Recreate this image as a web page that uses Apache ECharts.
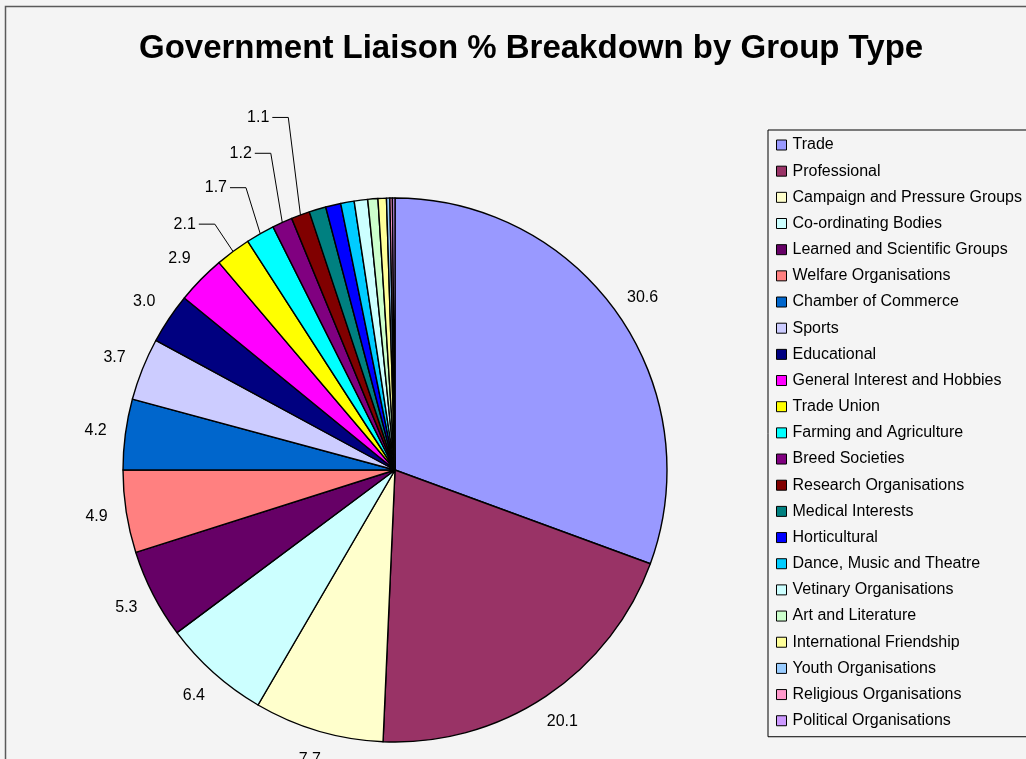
<!DOCTYPE html>
<html>
<head>
<meta charset="utf-8">
<title>Government Liaison % Breakdown by Group Type</title>
<script src="https://cdn.jsdelivr.net/npm/echarts@6/dist/echarts.min.js"></script>
<style>
  html, body { margin: 0; padding: 0; background: #ffffff; }
  #chart { width: 1026px; height: 759px; }
</style>
</head>
<body>
<div id="chart"></div>
<script>
// Group types, in the order they run clockwise from 12 o'clock
const categories = [
  'Trade', 'Professional', 'Campaign and Pressure Groups', 'Co-ordinating Bodies',
  'Learned and Scientific Groups', 'Welfare Organisations', 'Chamber of Commerce',
  'Sports', 'Educational', 'General Interest and Hobbies', 'Trade Union',
  'Farming and Agriculture', 'Breed Societies', 'Research Organisations',
  'Medical Interests', 'Horticultural', 'Dance, Music and Theatre',
  'Vetinary Organisations', 'Art and Literature', 'International Friendship',
  'Youth Organisations', 'Religious Organisations', 'Political Organisations'
];

// Share of government liaison (%)
const shares = [
  30.6, 20.1, 7.7, 6.4, 5.3, 4.9, 4.2, 3.7, 3.0, 2.9, 2.1, 1.7, 1.2, 1.1,
  1.0, 0.9, 0.8, 0.8, 0.6, 0.5, 0.2, 0.15, 0.15
];

// Classic office palette, one per group
const sliceColors = [
  '#9999FF', '#993366', '#FFFFCC', '#CCFFFF', '#660066', '#FF8080', '#0066CC',
  '#CCCCFF', '#000080', '#FF00FF', '#FFFF00', '#00FFFF', '#800080', '#800000',
  '#008080', '#0000FF', '#00CCFF', '#CCFFFF', '#CCFFCC', '#FFFF99', '#99CCFF',
  '#FF99CC', '#CC99FF'
];

// Slices whose value is printed beside the pie
const plainLabelCount = 10;   // labels sitting right next to their slice
const leaderLabelCount = 4;   // following ones, pulled out on a leader line

// Leader line geometry for the crowded small slices (radial run, sideways nudge)
const leaderLength = [34, 53, 76, 104];
const leaderShift = [2, 12, 20, 24];

const FONT = '"Liberation Sans", Arial, Helvetica, sans-serif';
const CENTER = [395, 470];
const RADIUS = 272;

const chart = echarts.init(document.getElementById('chart'), null, { renderer: 'canvas' });

const sliceData = categories.map((name, i) => {
  const isLeader = i >= plainLabelCount && i < plainLabelCount + leaderLabelCount;
  const item = {
    name: name,
    value: shares[i],
    itemStyle: { color: sliceColors[i] },
    label: { show: isLeader },
    labelLine: { show: isLeader }
  };
  if (isLeader) {
    item.labelLine.length = leaderLength[i - plainLabelCount];
  }
  return item;
});

const ringLabelData = categories.map((name, i) => ({
  name: name,
  value: shares[i],
  label: { show: i < plainLabelCount }
}));

const valueText = p => Number(p.value).toFixed(1);

chart.setOption({
  backgroundColor: '#f4f4f4',
  animation: false,
  graphic: [{
    type: 'rect',
    left: 3, top: 4,
    shape: { width: 1040, height: 770 },
    style: { fill: 'none', stroke: '#5a5a5a', lineWidth: 1.5 },
    silent: true, z: 0
  }],
  title: {
    text: 'Government Liaison % Breakdown by Group Type',
    left: 139,
    top: 32,
    padding: 0,
    textStyle: { fontFamily: FONT, fontSize: 33, fontWeight: 'bold', color: '#000' }
  },
  legend: {
    orient: 'vertical',
    left: 768,
    top: 130,
    padding: [7, 40, 8, 8],
    itemWidth: 10,
    itemHeight: 10,
    itemGap: 10.17,
    icon: 'rect',
    borderColor: '#000',
    borderWidth: 1,
    selectedMode: false,
    data: categories,
    itemStyle: { borderColor: '#000', borderWidth: 1 },
    textStyle: { fontFamily: FONT, fontSize: 16, lineHeight: 16, color: '#000', padding: [0, 0, 0, 1] }
  },
  series: [
    {
      name: 'Group Type',
      type: 'pie',
      center: CENTER,
      radius: RADIUS,
      startAngle: 90,
      clockwise: true,
      avoidLabelOverlap: false,
      silent: true,
      itemStyle: { borderColor: '#000', borderWidth: 1.4 },
      label: {
        position: 'outside',
        formatter: valueText,
        fontFamily: FONT, fontSize: 16, color: '#000',
        distanceToLabelLine: 3
      },
      labelLine: {
        length: 12,
        length2: 16,
        smooth: false,
        lineStyle: { color: '#000', width: 1 }
      },
      labelLayout: function (params) {
        const k = params.dataIndex - plainLabelCount;
        if (k < 0 || k >= leaderLabelCount || !params.labelLinePoints) return {};
        const s = leaderShift[k];
        const pts = params.labelLinePoints;
        const r = params.labelRect;
        return {
          x: r.x + r.width + s,
          y: r.y + r.height / 2,
          align: 'right',
          verticalAlign: 'middle',
          labelLinePoints: [
            [pts[0][0], pts[0][1]],
            [pts[1][0] + s, pts[1][1]],
            [pts[2][0] + s, pts[2][1]]
          ]
        };
      },
      data: sliceData
    },
    {
      // thin invisible ring just outside the pie that carries the near-slice labels
      name: 'Labels',
      type: 'pie',
      center: CENTER,
      radius: [297, 301],
      startAngle: 90,
      clockwise: true,
      silent: true,
      avoidLabelOverlap: false,
      itemStyle: { color: 'rgba(0,0,0,0)', borderWidth: 0 },
      label: {
        position: 'inside',
        formatter: valueText,
        fontFamily: FONT, fontSize: 16, color: '#000'
      },
      labelLine: { show: false },
      emphasis: { disabled: true },
      data: ringLabelData
    }
  ]
});
</script>
</body>
</html>
